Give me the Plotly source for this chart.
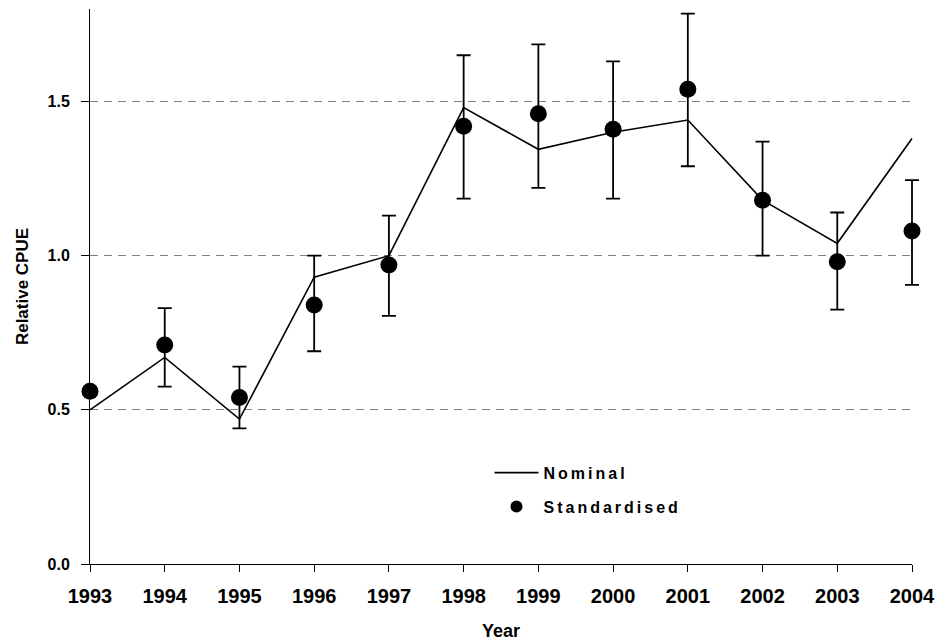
import plotly.graph_objects as go

years = [1993, 1994, 1995, 1996, 1997, 1998, 1999, 2000, 2001, 2002, 2003, 2004]
nominal = [0.50, 0.67, 0.47, 0.93, 1.00, 1.48, 1.345, 1.40, 1.44, 1.18, 1.04, 1.38]
standardised = [0.56, 0.71, 0.54, 0.84, 0.97, 1.42, 1.46, 1.41, 1.54, 1.18, 0.98, 1.08]
upper_ci = [None, 0.83, 0.64, 1.00, 1.13, 1.65, 1.685, 1.63, 1.785, 1.37, 1.14, 1.245]
lower_ci = [None, 0.575, 0.44, 0.69, 0.805, 1.185, 1.22, 1.185, 1.29, 1.00, 0.825, 0.905]
y_ticks = [0.0, 0.5, 1.0, 1.5]

err_plus = [None if u is None else u - s for u, s in zip(upper_ci, standardised)]
err_minus = [None if l is None else s - l for l, s in zip(lower_ci, standardised)]

FONT = "Arial, 'Liberation Sans', sans-serif"

fig = go.Figure()
fig.add_trace(go.Scatter(
    x=years, y=nominal, mode="lines", name="Nominal",
    line=dict(color="black", width=1.6), legendgroup="a",
    cliponaxis=False,
))
fig.add_trace(go.Scatter(
    x=years, y=standardised, mode="markers", name="Standardised",
    marker=dict(color="black", size=17, symbol="circle"), legendgroup="b",
    error_y=dict(type="data", symmetric=False, array=err_plus, arrayminus=err_minus,
                 color="black", thickness=1.8, width=7),
    cliponaxis=False, showlegend=False,
))
# legend-only entry with the smaller legend symbol
fig.add_trace(go.Scatter(
    x=[None], y=[None], mode="markers", name="Standardised",
    marker=dict(color="black", size=12, symbol="circle"), legendgroup="b",
    showlegend=True, hoverinfo="skip",
))

fig.update_layout(
    template="none",
    width=937, height=642,
    margin=dict(l=90, r=25, t=9, b=78, autoexpand=False),
    paper_bgcolor="white", plot_bgcolor="white",
    font=dict(family=FONT, size=17, color="black", weight="bold"),
    showlegend=True,
    legend=dict(
        x=0.486, y=0.195, xanchor="left", yanchor="top",
        bgcolor="rgba(0,0,0,0)", borderwidth=0,
        traceorder="grouped", tracegroupgap=10,
        font=dict(family=FONT, size=16, color="black", weight="bold"),
        itemwidth=44,
    ),
)
fig.update_xaxes(
    range=[1993, 2004], dtick=1, tick0=1993, tickformat="d",
    showline=True, linecolor="black", linewidth=1,
    ticks="outside", ticklen=7, tickcolor="black", tickwidth=1,
    ticklabelstandoff=7, automargin=False,
    showgrid=False, zeroline=False,
    tickfont=dict(family=FONT, size=20, color="black", weight="bold"),
    title=dict(text="Year", standoff=18,
               font=dict(family=FONT, size=18, color="black", weight="bold")),
)
fig.update_yaxes(
    range=[0, 1.8], tickvals=y_ticks, tickformat=".1f",
    showline=True, linecolor="black", linewidth=1,
    ticks="outside", ticklen=8, tickcolor="black", tickwidth=1,
    ticklabelstandoff=8, automargin=False,
    showgrid=True, gridcolor="#808080", gridwidth=1, griddash="8px,6px",
    zeroline=False,
    tickfont=dict(family=FONT, size=16, color="black", weight="bold"),
    title=dict(text="Relative CPUE", standoff=14,
               font=dict(family=FONT, size=17, color="black", weight="bold")),
)

post = """
document.body.style.margin = '0';
document.body.style.overflow = 'hidden';
function unclip(){
  document.querySelectorAll('.cartesianlayer [clip-path], .cartesianlayer .plot').forEach(function(g){ g.removeAttribute('clip-path'); });
  document.querySelectorAll('.legend [clip-path]').forEach(function(g){ g.removeAttribute('clip-path'); });
  document.querySelectorAll('.legendtext').forEach(function(t){ t.style.letterSpacing = '3px'; });
}
unclip();
setTimeout(unclip, 50);
"""

fig.write_html("out.html", post_script=post, config={"displayModeBar": False})
